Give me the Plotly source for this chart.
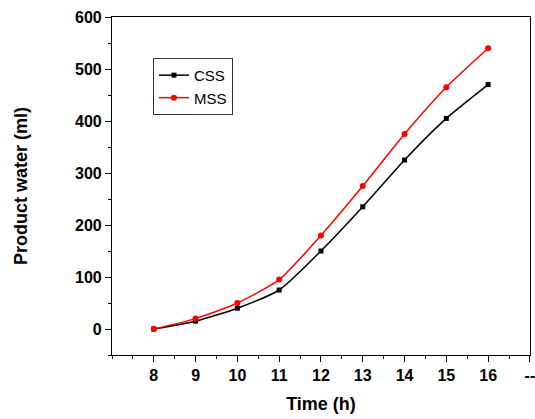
import plotly.graph_objects as go

time_h = [8, 9, 10, 11, 12, 13, 14, 15, 16]
css = [0, 15, 40, 75, 150, 235, 325, 405, 470]
mss = [0, 20, 50, 95, 180, 275, 375, 465, 540]
x_tickvals = [8, 9, 10, 11, 12, 13, 14, 15, 16, 17]
x_ticktext = ["8", "9", "10", "11", "12", "13", "14", "15", "16", "--"]
y_tickvals = [0, 100, 200, 300, 400, 500, 600]

FONT = "Arial, Liberation Sans"

fig = go.Figure()
fig.add_trace(go.Scatter(x=time_h, y=css, name="CSS", mode="lines+markers",
                         line=dict(color="black", width=1.5, shape="spline", smoothing=0.6),
                         marker=dict(symbol="square", size=5, color="black")))
fig.add_trace(go.Scatter(x=time_h, y=mss, name="MSS", mode="lines+markers",
                         line=dict(color="red", width=1.5, shape="spline", smoothing=0.6),
                         marker=dict(symbol="circle", size=6, color="red")))

tickfont = dict(size=16, family=FONT, color="black", weight="bold")
fig.update_layout(
    width=535, height=419,
    margin=dict(l=112, r=5, t=17, b=64),
    plot_bgcolor="white", paper_bgcolor="white",
    font=dict(family=FONT, color="black"),
    legend=dict(x=0.098, y=0.879, xanchor="left", yanchor="top",
                bordercolor="#333", borderwidth=1, bgcolor="white",
                font=dict(size=15, family=FONT),
                tracegroupgap=0, itemwidth=30),
    xaxis=dict(range=[7, 17.002], tickvals=x_tickvals, ticktext=x_ticktext, automargin=False,
               ticklabeloverflow="allow",
               ticks="outside", ticklen=6, tickwidth=1.2, tickcolor="black",
               showline=True, linecolor="black", linewidth=1.2, mirror=True,
               showgrid=False, zeroline=False, tickfont=tickfont,
               minor=dict(dtick=0.5, tick0=7, ticks="outside", ticklen=3, tickcolor="black", showgrid=False),
               title=dict(text="Time (h)", font=dict(size=18, weight="bold"), standoff=14)),
    yaxis=dict(range=[-50, 600], tickvals=y_tickvals, automargin=False,
               ticks="outside", ticklen=6, tickwidth=1.2, tickcolor="black",
               showline=True, linecolor="black", linewidth=1.2, mirror=True,
               showgrid=False, zeroline=False, tickfont=tickfont,
               minor=dict(dtick=50, tick0=-50, ticks="outside", ticklen=3, tickcolor="black", showgrid=False),
               title=dict(text="Product water (ml)", font=dict(size=18, weight="bold"), standoff=42)),
)
fig.write_html("out.html", config={"displayModeBar": False},
               post_script="document.body.style.margin='0';document.body.style.overflow='hidden';")
